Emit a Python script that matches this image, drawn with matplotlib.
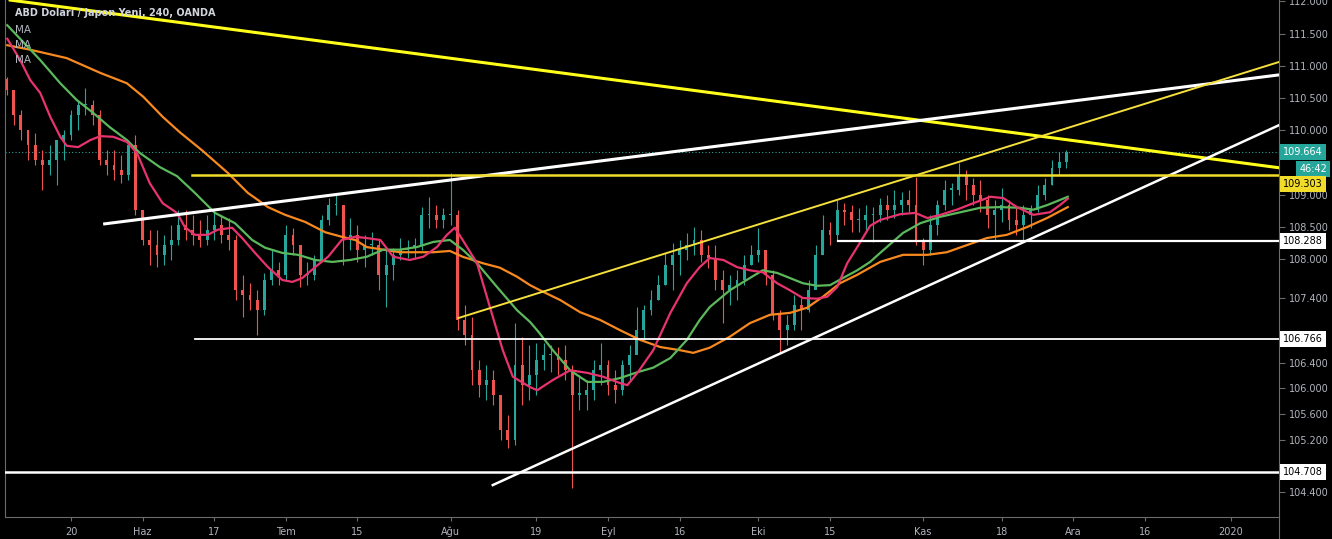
import matplotlib.pyplot as plt
import matplotlib.transforms as mtransforms
import numpy as np

BG = 'black'
UP = '#26a69a'
DOWN = '#ef5350'
AXIS = '#6b6b6b'
TXT = '#b2b5be'
PX = 1 / 100

# daily bars, first one on 2019-05-07, x axis counts trading days from 2019-05-20
first_day = '2019-05-07'
origin_day = '2019-05-20'
first_open = 110.80
high = [110.83, 110.55, 110.32, 110.01, 109.96, 109.70, 109.77, 109.70, 110.01, 110.32,
        110.47, 110.66, 110.47, 110.32, 109.70, 109.70, 109.62, 109.85, 109.93, 108.77,
        108.46, 108.46, 108.38, 108.53, 108.77, 108.77, 108.69, 108.61, 108.69, 108.73,
        108.69, 108.64, 108.38, 107.76, 107.63, 107.52, 107.79, 108.15, 107.96, 108.53,
        108.49, 108.22, 107.96, 108.07, 108.69, 108.95, 109.03, 108.84, 108.64, 108.53,
        108.38, 108.42, 108.30, 108.15, 108.18, 108.33, 108.30, 108.33, 108.81, 108.97,
        108.84, 108.80, 109.34, 108.77, 107.29, 107.11, 106.44, 106.36, 106.28, 105.82,
        105.59, 107.01, 106.80, 106.67, 106.70, 106.70, 106.67, 106.64, 106.67, 106.36,
        106.21, 106.13, 106.44, 106.70, 106.44, 106.28, 106.44, 106.67, 107.26, 107.29,
        107.52, 107.76, 108.10, 108.25, 108.30, 108.41, 108.50, 108.46, 108.22, 108.22,
        107.83, 107.76, 107.83, 108.07, 108.22, 108.49, 108.15, 107.83, 107.21, 107.14,
        107.45, 107.40, 107.68, 108.22, 108.69, 108.58, 108.92, 108.87, 108.84, 108.80,
        108.84, 108.81, 108.95, 109.00, 109.08, 109.04, 109.08, 109.28, 108.33, 108.69,
        108.92, 109.23, 109.18, 109.49, 109.39, 109.26, 109.23, 109.00, 108.92, 109.11,
        108.92, 108.80, 108.84, 108.84, 109.15, 109.26, 109.54, 109.66, 109.70]
low = [110.55, 110.08, 109.85, 109.54, 109.46, 109.08, 109.31, 109.15, 109.54, 109.85,
       110.01, 110.24, 110.08, 109.46, 109.31, 109.23, 109.18, 109.23, 108.69, 108.22,
       107.91, 107.88, 107.91, 107.99, 108.22, 108.30, 108.22, 108.19, 108.22, 108.30,
       108.25, 108.15, 107.37, 107.11, 107.21, 106.83, 107.14, 107.60, 107.60, 107.68,
       108.07, 107.57, 107.60, 107.68, 107.99, 108.53, 108.69, 107.91, 108.15, 107.96,
       107.88, 108.07, 107.52, 107.26, 107.68, 107.99, 108.02, 108.02, 108.15, 108.49,
       108.49, 108.49, 108.53, 106.90, 106.67, 106.05, 105.87, 105.82, 105.74, 105.20,
       105.08, 105.12, 105.74, 105.82, 105.90, 106.28, 106.25, 106.21, 106.13, 104.46,
       105.66, 105.66, 105.82, 106.05, 105.90, 105.77, 105.90, 106.13, 106.67, 106.75,
       107.14, 107.37, 107.60, 107.52, 107.76, 107.99, 108.07, 107.96, 107.87, 107.52,
       107.01, 107.29, 107.37, 107.60, 107.91, 107.96, 107.60, 107.06, 106.55, 106.67,
       106.90, 106.90, 107.18, 107.60, 108.15, 108.22, 108.30, 108.53, 108.42, 108.42,
       108.46, 108.27, 108.58, 108.61, 108.64, 108.69, 108.73, 108.22, 107.91, 108.07,
       108.38, 108.77, 108.84, 109.00, 108.92, 108.84, 108.73, 108.49, 108.30, 108.58,
       108.46, 108.38, 108.30, 108.49, 108.73, 108.92, 109.15, 109.31, 109.42]
close = [110.63, 110.24, 110.01, 109.77, 109.54, 109.46, 109.54, 109.85, 109.93, 110.24,
         110.39, 110.39, 110.24, 109.54, 109.46, 109.39, 109.31, 109.77, 108.77, 108.30,
         108.22, 108.07, 108.22, 108.30, 108.53, 108.46, 108.38, 108.30, 108.46, 108.53,
         108.38, 108.30, 107.52, 107.45, 107.37, 107.21, 107.68, 107.83, 107.76, 108.38,
         108.22, 107.76, 107.76, 107.99, 108.61, 108.84, 108.84, 108.30, 108.38, 108.15,
         108.22, 108.22, 107.76, 107.91, 108.07, 108.15, 108.18, 108.22, 108.69, 108.69,
         108.61, 108.69, 108.69, 107.06, 106.83, 106.28, 106.05, 106.13, 105.90, 105.35,
         105.20, 106.36, 106.05, 106.21, 106.44, 106.52, 106.52, 106.44, 106.28, 105.90,
         105.90, 105.97, 106.28, 106.36, 106.05, 105.97, 106.36, 106.52, 106.90, 107.21,
         107.37, 107.60, 107.91, 108.07, 108.15, 108.22, 108.30, 108.07, 108.02, 107.68,
         107.52, 107.60, 107.68, 107.91, 108.07, 108.15, 107.76, 107.14, 106.90, 106.98,
         107.29, 107.21, 107.52, 108.07, 108.46, 108.38, 108.77, 108.73, 108.61, 108.61,
         108.69, 108.69, 108.84, 108.77, 108.84, 108.92, 108.84, 108.30, 108.15, 108.53,
         108.84, 109.08, 109.08, 109.31, 109.15, 109.00, 108.92, 108.69, 108.77, 108.84,
         108.61, 108.53, 108.69, 108.77, 109.00, 109.15, 109.42, 109.51, 109.664]

# moving averages: (trading day, price)
ma_fast_day = [-8.9, -7.1, -5.7, -4.3, -2.9, -1.5, -0.6, 1.0, 2.7, 4.1, 5.9, 7.8, 9.2, 11.0, 12.8,
               14.8, 15.9, 17.3, 19.1, 20.5, 22.5, 23.9, 25.7, 27.5, 29.5, 30.9, 32.3, 34.1, 35.9,
               37.8, 39.7, 41.3, 43.2, 45.0, 47.3, 49.2, 51.1, 52.5, 53.6, 54.7, 56.7, 58.5, 60.3,
               61.7, 64.1, 65.1, 67.3, 69.7, 72.1, 74.3, 76.7, 77.7, 79.1, 81.3, 83.7, 86.0, 87.8,
               89.2, 91.1, 93.0, 94.8, 96.6, 98.6, 100.4, 102.2, 104.2, 105.6, 107.0, 108.4, 109.8,
               111.6, 113.0, 115.8, 117.9, 119.6, 121.4, 123.7, 126.0, 128.4, 130.2, 132.1, 134.4,
               136.7, 138.1, 139.2]
ma_fast = [111.42, 111.09, 110.78, 110.58, 110.21, 109.90, 109.76, 109.74, 109.85, 109.91, 109.90,
           109.82, 109.65, 109.18, 108.87, 108.72, 108.50, 108.38, 108.38, 108.46, 108.49, 108.33,
           108.10, 107.88, 107.68, 107.65, 107.71, 107.88, 108.04, 108.30, 108.35, 108.33, 108.30,
           108.04, 107.99, 108.04, 108.19, 108.38, 108.49, 108.30, 107.94, 107.26, 106.59, 106.18,
           106.02, 105.97, 106.13, 106.28, 106.24, 106.18, 106.08, 106.05, 106.24, 106.59, 107.17,
           107.63, 107.88, 108.02, 107.99, 107.88, 107.83, 107.80, 107.63, 107.52, 107.40, 107.39,
           107.42, 107.57, 107.94, 108.19, 108.52, 108.61, 108.70, 108.72, 108.64, 108.69, 108.77,
           108.87, 108.97, 108.95, 108.81, 108.69, 108.73, 108.84, 108.94]
ma_mid_day = [-8.9, -4.3, -1.5, 0.8, 3.1, 5.4, 7.8, 9.6, 12.4, 14.8, 17.3, 20.1, 22.9, 25.3, 27.1,
              29.5, 31.7, 34.1, 36.5, 39.0, 41.3, 43.6, 45.9, 48.3, 50.6, 52.9, 54.7, 56.7, 59.5,
              62.3, 64.1, 65.1, 67.3, 69.7, 72.1, 74.3, 76.7, 79.1, 81.3, 83.7, 86.0, 87.8, 89.2,
              92.0, 94.8, 96.6, 98.6, 100.4, 102.2, 104.2, 106.0, 107.8, 109.8, 111.6, 113.0, 116.2,
              118.6, 121.4, 124.2, 127.0, 129.7, 132.5, 134.4, 136.3, 138.1, 139.2]
ma_mid = [111.63, 111.09, 110.73, 110.47, 110.27, 110.05, 109.85, 109.65, 109.43, 109.29, 109.03,
          108.72, 108.56, 108.30, 108.18, 108.10, 108.07, 107.99, 107.96, 107.99, 108.04, 108.15,
          108.15, 108.19, 108.27, 108.30, 108.15, 107.94, 107.57, 107.21, 107.03, 106.90, 106.59,
          106.28, 106.10, 106.10, 106.16, 106.25, 106.32, 106.47, 106.75, 107.06, 107.26, 107.52,
          107.71, 107.83, 107.79, 107.71, 107.63, 107.59, 107.60, 107.71, 107.83, 107.96, 108.10,
          108.41, 108.56, 108.66, 108.73, 108.80, 108.81, 108.80, 108.77, 108.84, 108.92, 108.97]
ma_slow_day = [-8.9, -5.7, -0.6, 4.1, 7.8, 10.1, 12.8, 15.2, 18.3, 21.9, 24.7, 27.5, 29.9, 32.7,
               35.5, 37.8, 39.7, 41.3, 43.6, 45.9, 48.3, 50.6, 52.9, 54.7, 57.5, 59.9, 62.3, 64.1,
               65.5, 68.3, 71.1, 73.9, 76.7, 79.5, 82.3, 85.1, 86.9, 89.2, 92.0, 94.8, 97.6, 100.4,
               102.8, 105.0, 107.4, 109.8, 113.0, 116.2, 119.6, 122.3, 125.1, 127.9, 130.7, 133.5,
               136.3, 139.2]
ma_slow = [111.32, 111.25, 111.12, 110.89, 110.73, 110.52, 110.21, 109.97, 109.69, 109.34, 109.03,
           108.81, 108.69, 108.58, 108.42, 108.35, 108.30, 108.19, 108.15, 108.11, 108.11, 108.11,
           108.13, 108.04, 107.94, 107.87, 107.73, 107.60, 107.52, 107.37, 107.18, 107.06, 106.90,
           106.75, 106.64, 106.59, 106.55, 106.63, 106.80, 107.01, 107.14, 107.17, 107.25, 107.42,
           107.63, 107.76, 107.96, 108.07, 108.07, 108.11, 108.22, 108.33, 108.38, 108.50, 108.64,
           108.81]

# drawn trend lines: (start day, start price), (end day, end price)
res_down = ((-8.5, 112.02), (168.7, 109.42))
res_up = ((4.7, 108.55), (168.7, 110.86))
chan_up = ((54.1, 107.09), (168.7, 111.06))
sup_up = ((58.9, 104.50), (168.7, 110.08))
# horizontal levels: price, start day
lvl_yellow = (109.303, 16.9)
lvl_mid = (106.766, 17.3)
lvl_high = (108.288, 107.1)
lvl_low = (104.708, -9.22)
last_price = 109.664
countdown = '46:42'

tick_dates = ['2019-05-20', '2019-06-03', '2019-06-17', '2019-07-01', '2019-07-15', '2019-08-01',
              '2019-08-19', '2019-09-02', '2019-09-16', '2019-10-01', '2019-10-15', '2019-11-01',
              '2019-11-18', '2019-12-02', '2019-12-16', '2020-01-01']
tick_labels = ['20', 'Haz', '17', 'Tem', '15', 'Ağu', '19', 'Eyl', '16', 'Eki', '15', 'Kas',
               '18', 'Ara', '16', '2020']
price_ticks = [104.4, 105.2, 105.6, 106.0, 106.4, 107.4, 108.0, 108.5, 109.0,
               110.0, 110.5, 111.0, 111.5, 112.0]

fig = plt.figure(figsize=(1332 * PX, 539 * PX), facecolor=BG)
ax = fig.add_axes([5 / 1332, 22 / 539, 1274 / 1332, 517 / 539])
ax.set_facecolor(BG)

n = len(close)
dates = np.busday_offset(first_day, np.arange(n), roll='forward')
x = np.busday_count(origin_day, dates)
c = np.array(close)
o = np.concatenate([[first_open], c[:-1]])
col = np.where(c >= o, UP, DOWN)
ax.vlines(x, low, high, colors=col, linewidth=0.8, zorder=2)
ax.bar(x, np.maximum(np.abs(c - o), 0.02), bottom=np.minimum(o, c), width=0.4,
       color=col, linewidth=0, zorder=2)

ax.plot(ma_slow_day, ma_slow, color='#f7891f', lw=1.6, zorder=3)
ax.plot(ma_mid_day, ma_mid, color='#5cb85c', lw=1.6, zorder=3)
ax.plot(ma_fast_day, ma_fast, color='#e8336e', lw=1.6, zorder=3)

x_end = 168.7
ax.plot(*zip(*res_down), color='#ffff1a', lw=2.2, zorder=4)
ax.plot(*zip(*res_up), color='white', lw=2.2, zorder=4)
ax.plot(*zip(*chan_up), color='#f5e03c', lw=1.4, zorder=4)
ax.plot(*zip(*sup_up), color='white', lw=1.8, zorder=4)
ax.plot([lvl_yellow[1], x_end], [lvl_yellow[0]] * 2, color='#f2dc2a', lw=1.8, zorder=4)
ax.plot([lvl_mid[1], x_end], [lvl_mid[0]] * 2, color='white', lw=1.3, zorder=4)
ax.plot([lvl_high[1], x_end], [lvl_high[0]] * 2, color='white', lw=1.6, zorder=4)
ax.plot([lvl_low[1], x_end], [lvl_low[0]] * 2, color='white', lw=1.8, zorder=4)
ax.axhline(last_price, color=UP, lw=0.8, ls=(0, (1, 2)), zorder=1)

ax.set_xlim(-9.22, x_end)
ax.set_ylim(104.005, 112.021)

ax.set_xticks(np.busday_count(origin_day, np.array(tick_dates, dtype='datetime64[D]')))
ax.set_xticklabels(tick_labels)
ax.yaxis.tick_right()
ax.set_yticks(price_ticks)
ax.set_yticklabels([f'{v:.3f}' for v in price_ticks])
ax.tick_params(axis='x', colors=AXIS, labelcolor=TXT, labelsize=7, length=3, pad=4)
ax.tick_params(axis='y', colors=AXIS, labelcolor=TXT, labelsize=7, length=4, pad=3)
ax.spines['top'].set_visible(False)
for side in ['left', 'right', 'bottom']:
    ax.spines[side].set_color(AXIS)
    ax.spines[side].set_linewidth(0.8)
fig.add_artist(plt.Line2D([1279 / 1332] * 2, [0, 22 / 539], color=AXIS, lw=0.8))

# price labels on the axis
tr = mtransforms.blended_transform_factory(fig.transFigure, ax.transData)
shift = lambda px: mtransforms.offset_copy(tr, fig=fig, y=-px, units='dots')


def price_box(price, text, fc, tc, dy=0, xpos=1283, ha='left'):
    ax.text(xpos / 1332, price, text, transform=shift(dy), ha=ha, va='center',
            fontsize=7, color=tc, zorder=10, clip_on=False,
            bbox=dict(boxstyle='square,pad=0.3', fc=fc, ec='none'))


price_box(last_price, f'{last_price:.3f}', UP, 'white')
price_box(last_price, countdown, UP, 'white', dy=17, xpos=1327, ha='right')
price_box(lvl_yellow[0], f'{lvl_yellow[0]:.3f}', '#f2dc2a', 'black', dy=9)
price_box(lvl_high[0], f'{lvl_high[0]:.3f}', 'white', 'black')
price_box(lvl_mid[0], f'{lvl_mid[0]:.3f}', 'white', 'black')
price_box(lvl_low[0], f'{lvl_low[0]:.3f}', 'white', 'black')

fig.text(15 / 1332, 1 - 13 / 539, 'ABD Doları / Japon Yeni, 240, OANDA', color='#d1d4dc',
         fontsize=7, fontweight='bold', va='center')
for i in range(3):
    fig.text(15 / 1332, 1 - (30 + 15 * i) / 539, 'MA', color=TXT, fontsize=7.5, va='center')

fig.savefig('out.png', dpi=100, facecolor=BG)
